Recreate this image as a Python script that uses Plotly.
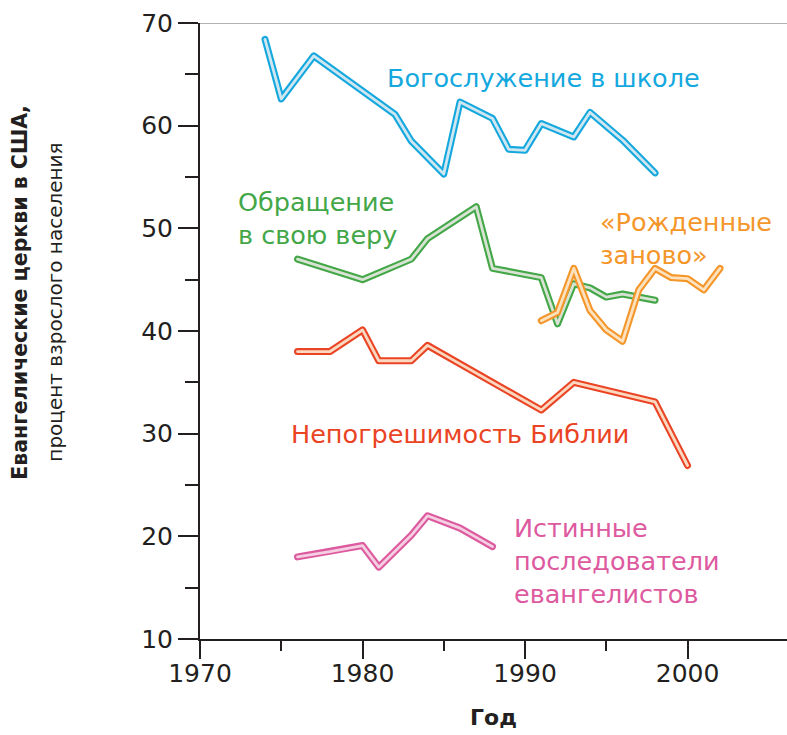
import plotly.graph_objects as go

# Богослужение в школе
school_years = [1974, 1975, 1977, 1980, 1982, 1983, 1985, 1986, 1988, 1989, 1990, 1991, 1993, 1994, 1996, 1998]
school_vals = [68.4, 62.6, 66.8, 63.4, 61.1, 58.5, 55.3, 62.3, 60.7, 57.7, 57.6, 60.2, 58.9, 61.3, 58.6, 55.4]

# Обращение в свою веру
conv_years = [1976, 1980, 1983, 1984, 1987, 1988, 1991, 1992, 1993, 1994, 1995, 1996, 1998]
conv_vals = [47.0, 45.0, 47.0, 49.0, 52.1, 46.1, 45.2, 40.7, 44.6, 44.2, 43.3, 43.6, 43.0]

# «Рожденные заново»
born_years = [1991, 1992, 1993, 1994, 1995, 1996, 1997, 1998, 1999, 2000, 2001, 2002]
born_vals = [41.0, 41.8, 46.1, 42.0, 40.1, 39.0, 44.0, 46.1, 45.2, 45.1, 44.0, 46.1]

# Непогрешимость Библии
bible_years = [1976, 1978, 1980, 1981, 1983, 1984, 1991, 1993, 1998, 2000]
bible_vals = [38.0, 38.0, 40.1, 37.1, 37.1, 38.6, 32.3, 35.0, 33.1, 26.9]

# Истинные последователи евангелистов
true_years = [1976, 1978, 1980, 1981, 1983, 1984, 1986, 1988]
true_vals = [18.0, 18.5, 19.1, 17.0, 20.1, 22.0, 20.8, 19.0]

series = [
    (school_years, school_vals, "#14a8de", "#d0e7f1"),
    (conv_years, conv_vals, "#43a748", "#d9e3d4"),
    (born_years, born_vals, "#f4962a", "#fde2bf"),
    (bible_years, bible_vals, "#ea4424", "#fbd9c0"),
    (true_years, true_vals, "#dd5a9f", "#f5cfe2"),
]

labels = [
    ("Богослужение в школе", 1981.4, 64.6, "#14a8de"),
    ("Обращение<br>в свою веру", 1972.2, 51.0, "#43a748"),
    ("«Рожденные<br>заново»", 1994.5, 49.0, "#f4962a"),
    ("Непогрешимость Библии", 1975.5, 30.0, "#ea4424"),
    ("Истинные<br>последователи<br>евангелистов", 1989.2, 17.6, "#dd5a9f"),
]

FONT = "DejaVu Sans"
INK = "#231f20"

fig = go.Figure()
for xs, ys, outer, inner in series:
    fig.add_trace(go.Scatter(x=xs, y=ys, mode="lines",
                             line=dict(color=outer, width=7), hoverinfo="skip"))
    fig.add_trace(go.Scatter(x=xs, y=ys, mode="lines",
                             line=dict(color=inner, width=2.8), hoverinfo="skip"))

for text, x, y, col in labels:
    fig.add_annotation(x=x, y=y, text=text, showarrow=False, xanchor="left",
                       yanchor="middle", align="left",
                       font=dict(family=FONT, size=25.5, color=col))

# gray line on top of the plot
fig.add_shape(type="line", xref="paper", yref="y", x0=0, x1=1, y0=70, y1=70,
              line=dict(color="#9a9a9a", width=1.5), layer="below")

# axis titles
fig.add_annotation(xref="paper", yref="paper", x=-0.3066, y=0.562, xanchor="center",
                   text="<b>Евангелические церкви в США,</b>", textangle=-90,
                   showarrow=False, font=dict(family=FONT, size=20.5, color=INK))
fig.add_annotation(xref="paper", yref="paper", x=-0.247, y=0.546, xanchor="center",
                   text="процент взрослого населения", textangle=-90,
                   showarrow=False, font=dict(family=FONT, size=20, color=INK))
fig.add_annotation(xref="paper", yref="paper", x=0.5, y=-0.128, xanchor="center",
                   text="<b>Год</b>", showarrow=False, yanchor="middle",
                   font=dict(family=FONT, size=22, color=INK))

fig.update_xaxes(range=[1970, 2006.12], showgrid=False, zeroline=False,
                 showline=True, linecolor=INK, linewidth=2, automargin=False,
                 ticks="outside", tickvals=[1970, 1980, 1990, 2000], ticklen=18,
                 tickwidth=1.5, tickcolor=INK, ticklabelstandoff=-7,
                 minor=dict(tickvals=[1975, 1985, 1995], ticklen=10, tickwidth=1.5,
                            tickcolor=INK, ticks="outside", showgrid=False),
                 tickfont=dict(family=FONT, size=25, color=INK))
fig.update_yaxes(range=[10, 70], showgrid=False, zeroline=False,
                 showline=True, linecolor=INK, linewidth=2, automargin=False,
                 ticks="outside", dtick=10, ticklen=20, tickwidth=1.5, tickcolor=INK,
                 minor=dict(dtick=5, ticklen=13, tickwidth=1.5, tickcolor=INK,
                            ticks="outside", showgrid=False),
                 tickfont=dict(family=FONT, size=25, color=INK))

fig.update_layout(
    width=787, height=735,
    plot_bgcolor="white", paper_bgcolor="white",
    showlegend=False,
    margin=dict(l=200, r=0, t=23, b=96),
)

js = ("document.body.style.margin='0px';"
      "document.querySelectorAll('.js-line').forEach(function(p){"
      "p.style.strokeLinejoin='round';p.style.strokeLinecap='round';});")
fig.write_html("out.html", post_script=js, config={"displayModeBar": False})
